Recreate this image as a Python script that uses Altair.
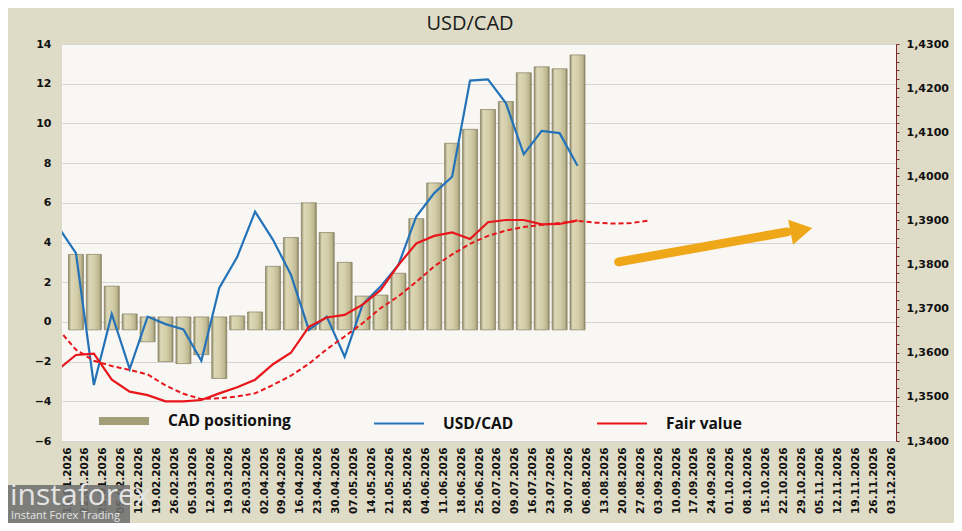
import altair as alt
import pandas as pd

# ---------------- data ----------------
weeks = ["15.01.2026", "22.01.2026", "29.01.2026", "05.02.2026", "12.02.2026", "19.02.2026",
         "26.02.2026", "05.03.2026", "12.03.2026", "19.03.2026", "26.03.2026", "02.04.2026",
         "09.04.2026", "16.04.2026", "23.04.2026", "30.04.2026", "07.05.2026", "14.05.2026",
         "21.05.2026", "28.05.2026", "04.06.2026", "11.06.2026", "18.06.2026", "25.06.2026",
         "02.07.2026", "09.07.2026", "16.07.2026", "23.07.2026", "30.07.2026", "06.08.2026",
         "13.08.2026", "20.08.2026", "27.08.2026", "03.09.2026", "10.09.2026", "17.09.2026",
         "24.09.2026", "01.10.2026", "08.10.2026", "15.10.2026", "22.10.2026", "29.10.2026",
         "05.11.2026", "12.11.2026", "19.11.2026", "26.11.2026", "03.12.2026"]

# CAD positioning (left axis), one bar per week starting 15.01
cad_positioning = [3.4, 3.4, 1.8, 0.4, -1.0, -2.0, -2.1, -1.65, -2.85, 0.3, 0.5, 2.8, 4.25,
                   6.0, 4.5, 3.0, 1.3, 1.35, 2.45, 5.2, 7.0, 9.0, 9.7, 10.7, 11.1, 12.55,
                   12.85, 12.75, 13.45]

# right-axis series, first value belongs to the week before 15.01 (cut off by the frame)
usdcad = [1.3886, 1.3826, 1.3527, 1.3688, 1.3563, 1.3682, 1.3665, 1.3653, 1.3582, 1.3747,
          1.3817, 1.3920, 1.3856, 1.3777, 1.3652, 1.3682, 1.3591, 1.3709, 1.3750, 1.3799,
          1.3909, 1.3962, 1.3999, 1.4217, 1.4220, 1.4166, 1.4050, 1.4103, 1.4098, 1.4024]

fair_value = [1.3562, 1.3595, 1.3598, 1.3539, 1.3512, 1.3504, 1.3490, 1.3490, 1.3493, 1.3508,
              1.3522, 1.3539, 1.3574, 1.3600, 1.3659, 1.3680, 1.3686, 1.3709, 1.3742, 1.3799,
              1.3848, 1.3865, 1.3873, 1.3858, 1.3896, 1.3901, 1.3901, 1.3891, 1.3892, 1.3900]

fair_trend = [1.3654, 1.3607, 1.3582, 1.3570, 1.3561, 1.3551, 1.3526, 1.3507, 1.3495, 1.3497,
              1.3501, 1.3508, 1.3527, 1.3548, 1.3575, 1.3608, 1.3637, 1.3667, 1.3701, 1.3728,
              1.3761, 1.3796, 1.3823, 1.3847, 1.3865, 1.3877, 1.3885, 1.3890, 1.3894, 1.3899,
              1.3895, 1.3893, 1.3894, 1.3900]

# forecast arrow (week position, right-axis value)
arrow_weeks = [30.8, 40.2]
arrow_values = [1.3806, 1.3874]
arrow_head_week = [41.0]
arrow_head_value = [1.3878]

series_names = ["CAD positioning", "USD/CAD", "Fair value"]
series_colors = ["#a49e78", "#2473b9", "#e8161b"]
series_widths = [8, 2.2, 2.2]

# ---------------- tables ----------------
bars_df = pd.DataFrame({
    "pos": [i + 0.5 for i in range(len(cad_positioning))],
    "value": cad_positioning,
})
bars_df["base"] = [-0.4 if v > 0 else 0.25 for v in cad_positioning]

usd_df = pd.DataFrame({"pos": [i - 0.5 for i in range(len(usdcad))], "r": usdcad,
                       "series": "USD/CAD"})
fair_df = pd.DataFrame({"pos": [i - 0.5 for i in range(len(fair_value))], "r": fair_value,
                        "series": "Fair value"})
trend_df = pd.DataFrame({"pos": [i - 0.5 for i in range(len(fair_trend))], "r": fair_trend})
arrow_df = pd.DataFrame({"pos": arrow_weeks, "r": arrow_values})
head_df = pd.DataFrame({"pos": arrow_head_week, "r": arrow_head_value})

# ---------------- encodings ----------------
label_array = "[" + ",".join("'" + w + "'" for w in weeks) + "]"
x_axis = alt.Axis(values=list(range(len(weeks))), labelExpr=label_array + "[datum.value]",
                  labelAngle=270, labelFont="DejaVu Sans", labelFontWeight="bold",
                  labelFontSize=10.5, labelColor="#111111", labelPadding=6, domain=False,
                  ticks=False, grid=False, title=None, labelOverlap=False)
x_scale = alt.Scale(domain=[0, len(weeks) - 1], nice=False, zero=False)


def xenc():
    return alt.X("pos:Q", scale=x_scale, axis=x_axis)


right_vals = [round(1.34 + 0.002 * k, 4) for k in range(46)]
r_axis = alt.Axis(orient="right", values=right_vals,
                  labelExpr="round(datum.value*1000) % 10 == 0 ? replace(format(datum.value, '.4f'), '.', ',') : ''",
                  labelFont="DejaVu Sans", labelFontWeight="bold", labelFontSize=11,
                  labelColor="#111111", labelPadding=7, domainColor="#7a2a2a",
                  tickColor="#7a2a2a", tickSize=3, grid=False, title=None, labelOverlap=False)
r_scale = alt.Scale(domain=[1.34, 1.43], nice=False, zero=False)


def yr():
    return alt.Y("r:Q", scale=r_scale, axis=r_axis)


bar_fill = alt.Gradient(
    gradient="linear", x1=0, x2=1, y1=0, y2=0,
    stops=[alt.GradientStop(offset=0, color="#8f8967"),
           alt.GradientStop(offset=0.18, color="#dcd7b6"),
           alt.GradientStop(offset=0.55, color="#d3cda8"),
           alt.GradientStop(offset=0.85, color="#bdb790"),
           alt.GradientStop(offset=1, color="#8a8462")])

bars = alt.Chart(bars_df).mark_bar(size=15, fill=bar_fill, stroke="#858060",
                                   strokeWidth=0.7).encode(
    x=xenc(),
    y=alt.Y("value:Q", scale=alt.Scale(domain=[-6, 14], nice=False, zero=False),
            axis=alt.Axis(values=list(range(-6, 15, 2)), grid=True, gridColor="#d5d5d5",
                          domain=False, ticks=False, labelFont="DejaVu Sans",
                          labelFontWeight="bold", labelFontSize=11, labelColor="#111111",
                          labelPadding=11, title=None)),
    y2="base:Q",
)

legend = alt.Legend(orient="none", legendX=33, legendY=348, direction="horizontal",
                    columns=3, title=None, symbolType="stroke", symbolSize=2500,
                    labelFont="Open Sans", labelFontSize=15.5, labelFontWeight="bold",
                    labelColor="#111111", labelOffset=15, columnPadding=78, labelLimit=300)

color_enc = alt.Color("series:N", scale=alt.Scale(domain=series_names, range=series_colors),
                      legend=legend)
width_enc = alt.StrokeWidth("series:N",
                            scale=alt.Scale(type="ordinal", domain=series_names,
                                            range=series_widths),
                            legend=legend)

blue = alt.Chart(usd_df).mark_line(clip=True).encode(
    x=xenc(), y=yr(), color=color_enc, strokeWidth=width_enc)
red = alt.Chart(fair_df).mark_line(clip=True).encode(
    x=xenc(), y=yr(), color=color_enc, strokeWidth=width_enc)
dashed = alt.Chart(trend_df).mark_line(strokeWidth=2, strokeDash=[5, 3], color="#e8161b",
                                       clip=True).encode(x=xenc(), y=yr())
arrow = alt.Chart(arrow_df).mark_line(strokeWidth=9, strokeCap="round",
                                      color="#eea718").encode(x=xenc(), y=yr())
head = alt.Chart(head_df).mark_point(shape="triangle-right", filled=True, opacity=1,
                                     size=650, angle=349, color="#eea718").encode(
    x=xenc(), y=yr())

lines = alt.layer(blue, red, dashed, arrow, head)

# watermark
logo_box = alt.Chart(pd.DataFrame({"a": [0]})).mark_rect(color="#6f6f6f", opacity=0.88).encode(
    x=alt.value(-54), x2=alt.value(68), y=alt.value(441), y2=alt.value(479))
logo_text = alt.Chart(pd.DataFrame({"t": ["instaforex"]})).mark_text(
    align="left", baseline="alphabetic", font="Open Sans", fontSize=30, color="#e4e4e4").encode(
    x=alt.value(-52), y=alt.value(461), text="t:N")
logo_sub = alt.Chart(pd.DataFrame({"t": ["Instant Forex Trading"]})).mark_text(
    align="left", baseline="alphabetic", font="Open Sans", fontSize=11, color="#e4e4e4").encode(
    x=alt.value(-51), y=alt.value(475), text="t:N")

chart = alt.layer(bars, lines, logo_box, logo_text, logo_sub).resolve_scale(
    y="independent").properties(
    width=834, height=397,
    title=alt.TitleParams("USD/CAD", font="Open Sans", fontSize=20, fontWeight="normal",
                          color="#1a1a1a", anchor="middle", offset=4, dx=-9),
    autosize=alt.AutoSizeParams(type="none"),
    padding={"left": 54, "top": 36, "right": 58, "bottom": 82},
    background="#dedbc6",
).configure_view(fill="#f8f7f3", stroke=None)

chart.save("out.html", embed_options={"renderer": "svg", "actions": False})
